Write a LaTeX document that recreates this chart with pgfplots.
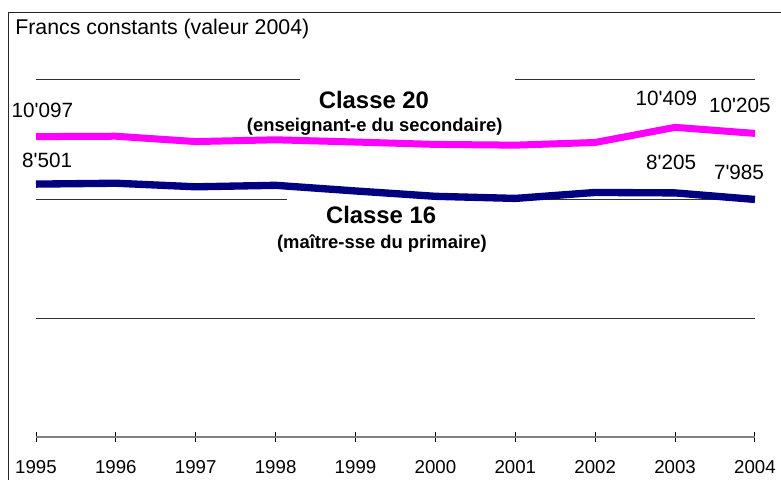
\documentclass[border=0pt]{standalone}
\usepackage{pgfplots}
\pgfplotsset{compat=1.18}
\usepackage{fontspec}
\setmainfont{Liberation Sans}
\definecolor{rose}{HTML}{FF00FF}
\definecolor{marine}{HTML}{000080}
\definecolor{grille}{HTML}{303030}
\newcommand{\ap}{\textquotesingle}

\begin{document}
\begin{tikzpicture}
\begin{axis}[
  at={(27pt,31.5pt)}, anchor=south west,
  scale only axis, width=539.25pt, height=267.75pt,
  xmin=1995, xmax=2004, ymin=0, ymax=12000,
  clip=false,
  axis x line*=bottom, axis y line*=left,
  y axis line style={draw=none},
  x axis line style={draw=gray, line width=1pt},
  xtick={1995,...,2004},
  xtick align=center, major tick length=8pt,
  xtick style={black, line width=0.75pt},
  ytick={4000,8000,12000}, yticklabels={},
  scaled y ticks=false,
  ytick style={draw=none},
  ymajorgrids, grid style={grille, line width=0.75pt},
  /pgf/number format/1000 sep={},
  /pgf/number format/assume math mode=true,
  xticklabel style={font=\fontsize{14}{16}\selectfont, anchor=base, yshift=-23pt},
]
% white boxes behind the series labels
\fill[white] (axis cs:1998.30,11600) rectangle (axis cs:2000.99,12400);
\fill[white] (axis cs:1998.14,7500) rectangle (axis cs:2001.3,8300);

\addplot[rose, line width=5.25pt] coordinates {
  (1995,10097) (1996,10110) (1997,9930) (1998,9990) (1999,9915)
  (2000,9835) (2001,9810) (2002,9900) (2003,10409) (2004,10205)
};
\addplot[marine, line width=5.5pt] coordinates {
  (1995,8501) (1996,8530) (1997,8410) (1998,8460) (1999,8270)
  (2000,8090) (2001,8020) (2002,8220) (2003,8205) (2004,7985)
};

\begin{scope}[every node/.style={inner sep=0pt, anchor=center, font=\fontsize{15.5}{18}\selectfont}]
\node at (axis cs:1995.08,10987) {10\ap 097};
\node at (axis cs:1995.14,9307) {8\ap 501};
\node at (axis cs:2002.89,11390) {10\ap 409};
\node at (axis cs:2003.81,11155) {10\ap 205};
\node at (axis cs:2002.95,9240) {8\ap 205};
\node at (axis cs:2003.80,8904) {7\ap 985};
\end{scope}

\node[inner sep=0pt, font=\fontsize{17.9}{20}\selectfont\bfseries] at (axis cs:1999.23,11323) {Classe 20};
\node[inner sep=0pt, font=\fontsize{13.8}{16}\selectfont\bfseries] at (axis cs:1999.24,10416) {(enseignant-e du secondaire)};
\node[inner sep=0pt, font=\fontsize{17.9}{20}\selectfont\bfseries] at (axis cs:1999.32,7459) {Classe 16};
\node[inner sep=0pt, font=\fontsize{13.8}{16}\selectfont\bfseries] at (axis cs:1999.33,6518) {(maître-sse du primaire)};
\end{axis}

\node[anchor=west, inner sep=0pt, font=\fontsize{16}{18}\selectfont] at (11.25pt,337.5pt) {Francs constants (valeur 2004)};
\draw[line width=0.75pt, black!85] (6pt,-2pt) -- (6pt,349.5pt) -- (590pt,349.5pt);

\pgfresetboundingbox
\path (0,0) rectangle (585.75pt,359.25pt);
\end{tikzpicture}
\end{document}
